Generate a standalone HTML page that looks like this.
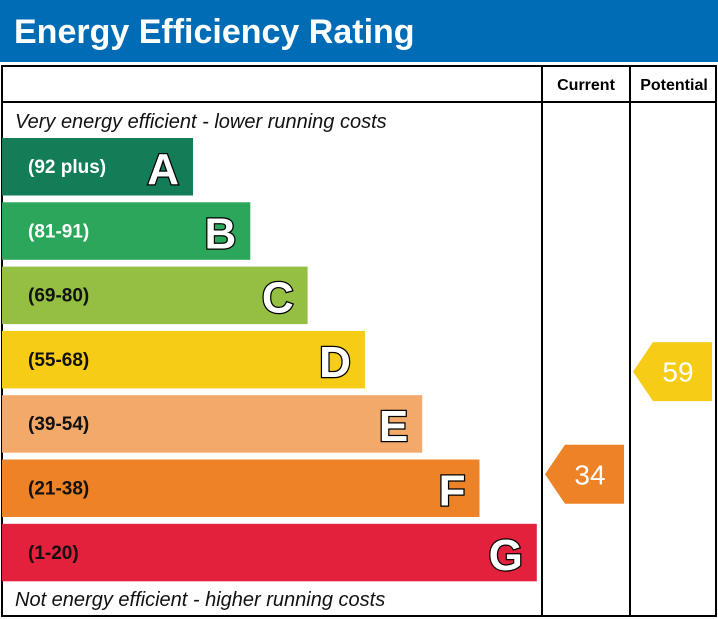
<!DOCTYPE html>
<html><head><meta charset="utf-8"><style>
body{margin:0;background:#fff;}
svg{display:block;font-family:"Liberation Sans",Arial,sans-serif;}
</style></head><body>
<svg id="c" width="718" height="619" viewBox="0 0 718 619">
<rect x="0" y="0" width="718" height="62" fill="#006cb5"/>
<text x="14" y="43" font-size="34" font-weight="bold" fill="#fff">Energy Efficiency Rating</text>
<rect x="2" y="66" width="714" height="550" fill="none" stroke="#000" stroke-width="2"/>
<line x1="542" y1="66" x2="542" y2="616" stroke="#000" stroke-width="2"/>
<line x1="630" y1="66" x2="630" y2="616" stroke="#000" stroke-width="2"/>
<line x1="2" y1="102" x2="716" y2="102" stroke="#000" stroke-width="2"/>
<text x="586" y="90" font-size="16" font-weight="bold" text-anchor="middle">Current</text>
<text x="674" y="90" font-size="16" font-weight="bold" text-anchor="middle">Potential</text>
<text x="15" y="128" font-size="20" font-style="italic" fill="#111">Very energy efficient - lower running costs</text>
<text x="15" y="606" font-size="20" font-style="italic" fill="#111">Not energy efficient - higher running costs</text>
<g id="bands"></g>
<g id="arrows"></g>
</svg>
<script>
const letters=["A","B","C","D","E","F","G"];
const ranges=["(92 plus)","(81-91)","(69-80)","(55-68)","(39-54)","(21-38)","(1-20)"];
const minScores=[92,81,69,55,39,21,1];
const colors=["#137d58","#2ca65a","#94bf43","#f6cc17","#f2a96a","#ed8226","#e3213c"];
const currentValue=34;
const potentialValue=59;
const NS="http://www.w3.org/2000/svg";
const bandTop=i=>138+i*64.3;
const bandW=i=>191+i*57.3;
const bandH=57.5;
const g=document.getElementById("bands");
letters.forEach((L,i)=>{
 const y=bandTop(i);
 const r=document.createElementNS(NS,"rect");
 r.setAttribute("x",2);r.setAttribute("y",y);r.setAttribute("width",bandW(i));r.setAttribute("height",bandH);r.setAttribute("fill",colors[i]);
 
 
 g.appendChild(r);
 const t=document.createElementNS(NS,"text");
 t.setAttribute("x",28);t.setAttribute("y",y+35);t.setAttribute("font-size","19");t.setAttribute("font-weight","bold");
 t.setAttribute("fill",i<2?"#fff":"#111");t.textContent=ranges[i];
 
 
 g.appendChild(t);
 const l=document.createElementNS(NS,"text");
 l.setAttribute("x",2+bandW(i)-14);l.setAttribute("y",y+46);l.setAttribute("text-anchor","end");
 l.setAttribute("font-size","44");l.setAttribute("font-weight","bold");l.setAttribute("fill","#fff");
 l.setAttribute("stroke","#000");l.setAttribute("stroke-width","2.5");l.setAttribute("paint-order","stroke");
 l.textContent=L;
 
 
 g.appendChild(l);
});
function bandOf(v){for(let i=0;i<minScores.length;i++){if(v>=minScores[i])return i;}return 6;}
const ag=document.getElementById("arrows");
function arrow(v,x0,name){
 const i=bandOf(v);const y=bandTop(i)+0.5*(bandH)-29.5+ (i===5?0:0);
 const yy=bandTop(i)-(i===3?-4:-1)*1; // aligned to band
 const top=bandTop(i)+(i>=4?-(bandTop(i)-bandTop(i))+ -15:11);
 const t0= bandTop(i)+bandH/2-29.5 + (i===5?-14:(i===3?12:0));
 const p=document.createElementNS(NS,"polygon");
 const w=79,h=59,tip=20;
 p.setAttribute("points",`${x0},${t0+h/2} ${x0+tip},${t0} ${x0+w},${t0} ${x0+w},${t0+h} ${x0+tip},${t0+h}`);
 p.setAttribute("fill",colors[i]);
 
 
 ag.appendChild(p);
 const t=document.createElementNS(NS,"text");
 t.setAttribute("x",x0+tip+25);t.setAttribute("y",t0+h/2+10);t.setAttribute("text-anchor","middle");
 t.setAttribute("font-size","28");t.setAttribute("fill","#fff");t.textContent=v;
 
 
 ag.appendChild(t);
}
arrow(currentValue,545,"current-rating");
arrow(potentialValue,633,"potential-rating");
</script>
</body></html>
